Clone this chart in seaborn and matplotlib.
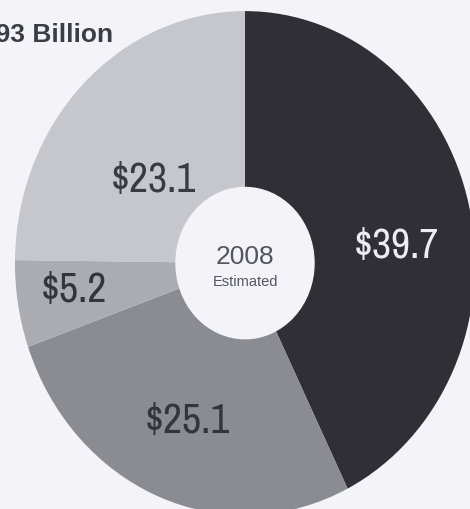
import matplotlib
matplotlib.use("Agg")
import matplotlib.pyplot as plt
import numpy as np
import seaborn as sns
from matplotlib import font_manager

# Data (billions of dollars, 2008 estimate)
segments = ["A", "B", "C", "D"]
values = [39.7, 25.1, 5.2, 23.1]
labels = ["$39.7", "$25.1", "$5.2", "$23.1"]
title_text = "$93 Billion"
center_year = "2008"
center_note = "Estimated"

# Layout / style
colors = ["#2f2f35", "#8b8b92", "#ababb2", "#c6c6cd"]
label_colors = ["#ececf2", "#34343c", "#34343c", "#3a3a44"]
label_radius = [0.66, 0.67, 0.75, 0.52]
label_nudge = [-7.0, 0.0, -1.5, 5.5]  # degrees from wedge middle
BG = "#f3f3f8"

sns.set_theme(style="white")

# pick a condensed face for the slice values, if one is installed
fonts = font_manager.fontManager.ttflist
narrow, stretch = "DejaVu Sans", "condensed"
for f in fonts:
    if "Narrow" in f.name or "Condensed" in f.name:
        narrow, stretch = f.name, "normal"
        break
names = {f.name for f in fonts}
regular = "Liberation Sans" if "Liberation Sans" in names else "DejaVu Sans"
plt.rcParams["font.family"] = [regular, "DejaVu Sans"]
print(narrow, stretch)

fig = plt.figure(figsize=(4.7, 5.1), dpi=100, facecolor=BG)
ax = fig.add_axes([0, 0, 1, 1])
ax.set_facecolor(BG)

wedges, _ = ax.pie(values, colors=colors, startangle=90, counterclock=False,
                   radius=1.0, wedgeprops=dict(width=0.70, linewidth=0))

# hole
ax.add_patch(plt.Circle((0, 0), 0.30, color="#f4f3f8", zorder=3))

for w, lab, col, r, dn in zip(wedges, labels, label_colors, label_radius, label_nudge):
    mid = np.deg2rad((w.theta1 + w.theta2) / 2 + dn)
    ax.text(r * np.cos(mid), r * np.sin(mid), lab, ha="center", va="center",
            fontsize=30, color=col, family=[narrow, "DejaVu Sans"],
            stretch=stretch, zorder=4)

ax.text(0.0, 0.03, center_year, ha="center", va="center", fontsize=19,
        color="#55555f", zorder=5)
ax.text(0.0, -0.07, center_note, ha="center", va="center", fontsize=10.5,
        color="#55555f", zorder=5)

# the scan is slightly stretched vertically, so let the pie follow the box
ax.set_aspect("auto")
ax.set_xlim(-1.065, 0.978)
ax.set_ylim(-0.976, 1.048)
ax.axis("off")

fig.text(113 / 470, 1 - 35 / 510, title_text, ha="right", va="center",
         fontsize=19, fontweight="bold", color="#3c3c44")

fig.savefig("out.png", dpi=100, facecolor=BG)
